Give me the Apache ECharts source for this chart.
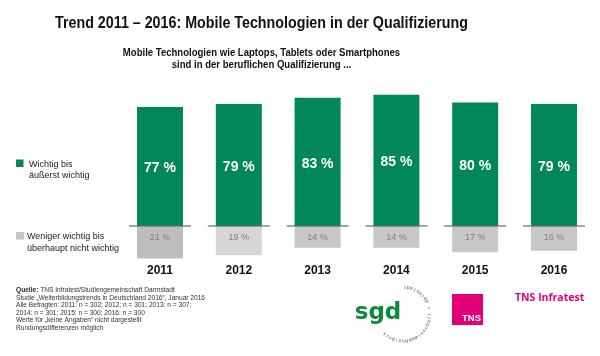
<!DOCTYPE html>
<html>
<head>
<meta charset="utf-8">
<script src="https://cdn.jsdelivr.net/npm/echarts@6/dist/echarts.min.js"></script>
<style>html,body{margin:0;padding:0;background:#fff;}#c{width:600px;height:356px;}</style>
</head>
<body>
<div id="c"></div>
<script>
const years = ['2011', '2012', '2013', '2014', '2015', '2016'];
const important = [77, 79, 83, 85, 80, 79];
const notImportant = [21, 19, 14, 14, 17, 16];
const greyColors = ['#bdbec0', '#d6d6d8', '#c6c7c9', '#c6c7c9', '#c6c7c9', '#c6c7c9'];
const baseline = [0, 0, 0, 0, 0, 0];

const footLines = [
  '{b|Quelle:} TNS Infratest/Studiengemeinschaft Darmstadt',
  'Studie \u201EWeiterbildungstrends in Deutschland 2016\u201C, Januar 2016',
  'Alle Befragten: 2011: n = 302; 2012: n = 301; 2013: n = 307;',
  '2014: n = 301; 2015: n = 300; 2016: n = 300',
  'Werte f\u00FCr \u201Ekeine Angaben\u201C nicht dargestellt',
  'Rundungsdifferenzen m\u00F6glich'
];

const chart = echarts.init(document.getElementById('c'), null, {renderer: 'canvas'});
const FF = '"Liberation Sans", Arial, sans-serif';

// ring text for the sgd logo (decoration), counterclockwise, letter tops toward centre
const ringText = 'studiengemeinschaft \u2022 darmstadt';
const ring = [];
const cx = 403, cy = 314, r = 27;
const t0 = 223, t1 = 4;
for (let i = 0; i < ringText.length; i++) {
  const th = t0 + (t1 - t0) * i / (ringText.length - 1);
  const a = th * Math.PI / 180;
  ring.push({
    type: 'text',
    x: cx + r * Math.sin(a),
    y: cy - r * Math.cos(a),
    rotation: (180 - th) * Math.PI / 180,
    style: {text: ringText[i], fill: '#555', font: '5px ' + FF, align: 'center', verticalAlign: 'middle'}
  });
}

chart.setOption({
  animation: false,
  backgroundColor: '#fff',
  textStyle: {fontFamily: FF},
  grid: {left: 120.6, right: 6.6, top: 71.5, height: 191.6, containLabel: false},
  xAxis: {
    type: 'category',
    data: years,
    axisLine: {show: false},
    axisTick: {show: false},
    axisLabel: {margin: 2, fontSize: 12, fontWeight: 'bold', color: '#111', fontFamily: FF}
  },
  yAxis: {
    type: 'value', min: -24, max: 100, show: false, splitLine: {show: false}
  },
  series: [
    {
      name: 'Wichtig bis äußerst wichtig',
      type: 'bar',
      data: important,
      barWidth: 46,
      barGap: '-100%',
      itemStyle: {color: '#00875a'},
      label: {show: true, position: 'inside', offset: [0, 2], formatter: '{c} %', color: '#fff', fontSize: 14, fontWeight: 'bold', fontFamily: FF}
    },
    {
      name: 'Weniger wichtig bis überhaupt nicht wichtig',
      type: 'bar',
      data: notImportant.map(v => -v),
      barWidth: 46,
      barGap: '-100%',
      clip: false,
      itemStyle: {color: p => greyColors[p.dataIndex]},
      label: {show: true, position: 'insideTop', distance: 7, formatter: p => (-p.value) + ' %', color: '#808080', fontSize: 9, fontFamily: FF}
    },
    {
      type: 'scatter',
      data: baseline,
      symbol: 'rect',
      symbolSize: [62, 1.5],
      itemStyle: {color: '#6a6a6a'},
      z: 5,
      silent: true
    }
  ],
  graphic: [
    {type: 'text', x: 261.5, y: 23, scaleX: 0.865, style: {text: 'Trend 2011 \u2013 2016: Mobile Technologien in der Qualifizierung', font: 'bold 16.5px ' + FF, fill: '#111', align: 'center', verticalAlign: 'middle'}},
    {type: 'text', x: 261.5, y: 59, scaleX: 0.91, style: {text: 'Mobile Technologien wie Laptops, Tablets oder Smartphones\nsind in der beruflichen Qualifizierung ...', font: 'bold 10.5px ' + FF, lineHeight: 12, fill: '#111', align: 'center', verticalAlign: 'middle'}},
    // legend
    {type: 'rect', shape: {x: 16, y: 159.5, width: 7.5, height: 7.5}, style: {fill: '#00875a'}},
    {type: 'text', x: 29, y: 170.5, style: {text: 'Wichtig bis\n\u00E4u\u00DFerst wichtig', font: '9px ' + FF, lineHeight: 11, fill: '#222', verticalAlign: 'middle'}},
    {type: 'rect', shape: {x: 16, y: 232, width: 8, height: 7.5}, style: {fill: '#c6c7c9'}},
    {type: 'text', x: 27, y: 243, style: {text: 'Weniger wichtig bis\n\u00FCberhaupt nicht wichtig', font: '9px ' + FF, lineHeight: 12, fill: '#222', verticalAlign: 'middle'}},
    // footnote
    {type: 'text', x: 16, y: 286.5, style: {text: footLines.join('\n'), font: '6.6px ' + FF, lineHeight: 7.5, fill: '#333', rich: {b: {fontWeight: 'bold', fontSize: 6.6, fontFamily: FF, fill: '#222'}}}},
    // sgd logo
    {type: 'text', x: 378, y: 313, style: {text: 'sgd', font: 'bold 23px "DejaVu Sans", sans-serif', fill: '#0a8a3c', align: 'center', verticalAlign: 'middle'}},
    ...ring,
    // TNS logo
    {type: 'rect', shape: {x: 452, y: 294, width: 31, height: 31}, style: {fill: '#e2007a'}},
    {type: 'text', x: 481, y: 323, style: {text: 'TNS', font: 'bold 9.5px ' + FF, fill: '#fff', align: 'right', verticalAlign: 'bottom'}},
    {type: 'text', x: 515, y: 298, style: {text: 'TNS Infratest', font: 'bold 10.5px "Open Sans", sans-serif', fill: '#e2007a', verticalAlign: 'middle'}}
  ]
});
</script>
</body>
</html>
